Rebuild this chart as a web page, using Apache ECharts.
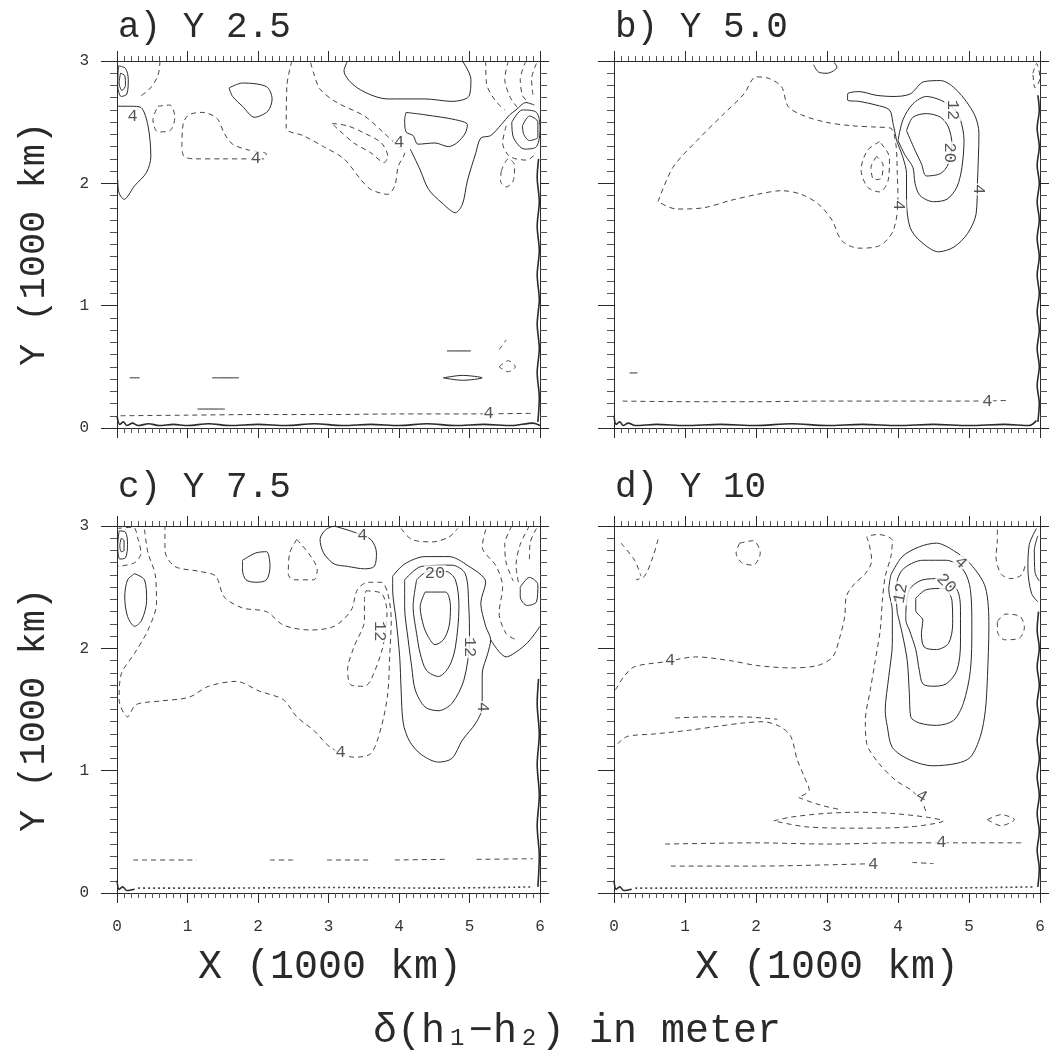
<!DOCTYPE html>
<html>
<head>
<meta charset="utf-8">
<script src="https://cdn.jsdelivr.net/npm/echarts@6/dist/echarts.min.js"></script>
<style>
html, body { margin: 0; padding: 0; background: #fff; }
#chart { width: 1049px; height: 1055px; }
</style>
</head>
<body>
<div id="chart"></div>
<script>
// delta(h1-h2) contours, coordinates in 1000 km; v > 0 solid, v < 0 dashed
const panelTitles = ['a) Y 2.5', 'b) Y 5.0', 'c) Y 7.5', 'd) Y 10']
const xTicks = [0, 1, 2, 3, 4, 5, 6]
const yTicks = [0, 1, 2, 3]

const contoursA = [
  { v: 4, pts: [[0.01, 2.63], [0.2, 2.63], [0.34, 2.62], [0.44, 2.47], [0.48, 2.22], [0.42, 2.09], [0.25, 1.98], [0.1, 1.87], [0.03, 1.92], [0.01, 2.03]] },
  { v: 8, pts: [[0.02, 2.96], [0.12, 2.94], [0.16, 2.85], [0.14, 2.73], [0.06, 2.71], [0.01, 2.8], [0.02, 2.96]] },
  { v: 12, pts: [[0.05, 2.9], [0.11, 2.88], [0.12, 2.8], [0.07, 2.76], [0.03, 2.82], [0.05, 2.9]] },
  { v: -4, pts: [[0.61, 3.0], [0.58, 2.88], [0.46, 2.77], [0.3, 2.7]] },
  { v: -4, pts: [[0.58, 2.63], [0.75, 2.64], [0.82, 2.54], [0.75, 2.43], [0.58, 2.42], [0.51, 2.52], [0.58, 2.63]] },
  { v: -4, pts: [[0.92, 2.3], [0.94, 2.49], [1.02, 2.56], [1.21, 2.58], [1.42, 2.53], [1.52, 2.41], [1.64, 2.32], [1.88, 2.27], [2.12, 2.24], [2.08, 2.2], [1.88, 2.2], [1.5, 2.2], [1.1, 2.2], [0.95, 2.22], [0.92, 2.3]] },
  { v: 4, pts: [[1.59, 2.78], [1.78, 2.82], [2.12, 2.79], [2.2, 2.69], [2.14, 2.59], [1.95, 2.54], [1.78, 2.63], [1.64, 2.71], [1.59, 2.78]] },
  { v: -4, pts: [[2.48, 3.0], [2.41, 2.8], [2.4, 2.45], [2.64, 2.39], [2.93, 2.3], [3.22, 2.2], [3.46, 2.03], [3.6, 1.95], [3.84, 1.91], [3.94, 1.98], [3.99, 2.14], [4.08, 2.25], [3.99, 2.3], [3.79, 2.41], [3.51, 2.55], [3.12, 2.66], [2.88, 2.77], [2.79, 2.9], [2.74, 3.0]] },
  { v: -8, pts: [[3.05, 2.49], [3.27, 2.47], [3.51, 2.41], [3.75, 2.33], [3.84, 2.22], [3.79, 2.17], [3.6, 2.25], [3.36, 2.33], [3.12, 2.45], [3.05, 2.49]] },
  { v: 4, pts: [[3.27, 3.0], [3.22, 2.92], [3.41, 2.78], [3.84, 2.69], [4.37, 2.69], [4.75, 2.67], [4.99, 2.71], [5.02, 2.85], [4.9, 3.0]] },
  { v: 4, pts: [[4.1, 2.58], [4.37, 2.56], [4.8, 2.52], [4.97, 2.48], [4.94, 2.41], [4.82, 2.33], [4.7, 2.3], [4.51, 2.33], [4.27, 2.32], [4.2, 2.39], [4.1, 2.42], [4.08, 2.52], [4.1, 2.58]] },
  { v: 4, pts: [[4.16, 2.28], [4.3, 2.11], [4.42, 1.95], [4.61, 1.84], [4.8, 1.76], [4.9, 1.83], [4.97, 2.02], [5.09, 2.25], [5.16, 2.37], [5.3, 2.39], [5.45, 2.48], [5.57, 2.56], [5.66, 2.6], [5.8, 2.66], [5.92, 2.64]] },
  { v: -4, pts: [[5.23, 3.0], [5.24, 2.82], [5.36, 2.68], [5.5, 2.6]] },
  { v: -8, pts: [[5.55, 3.0], [5.5, 2.85], [5.58, 2.7], [5.68, 2.62]] },
  { v: -12, pts: [[5.8, 3.0], [5.72, 2.85], [5.75, 2.72], [5.82, 2.67]] },
  { v: -16, pts: [[5.95, 2.98], [5.88, 2.85], [5.9, 2.72]] },
  { v: -4, pts: [[5.52, 2.47], [5.47, 2.33], [5.57, 2.22], [5.81, 2.19], [5.95, 2.25]] },
  { v: -4, pts: [[5.45, 2.1], [5.55, 2.2], [5.64, 2.15], [5.62, 2.02], [5.52, 1.97], [5.44, 2.02], [5.45, 2.1]] },
  { v: 8, pts: [[5.6, 2.5], [5.75, 2.6], [5.95, 2.58], [6.0, 2.45], [5.95, 2.3], [5.78, 2.28], [5.62, 2.38], [5.6, 2.5]] },
  { v: 12, pts: [[5.75, 2.47], [5.85, 2.55], [5.97, 2.5], [5.97, 2.38], [5.85, 2.35], [5.77, 2.4], [5.75, 2.47]] },
  { v: 4, pts: [[4.68, 0.63], [5.02, 0.63]] },
  { v: 4, pts: [[1.35, 0.41], [1.73, 0.41]] },
  { v: 4, pts: [[0.18, 0.41], [0.32, 0.41]] },
  { v: 4, pts: [[4.63, 0.41], [4.9, 0.43], [5.18, 0.41], [4.9, 0.39], [4.63, 0.41]] },
  { v: 4, pts: [[1.14, 0.155], [1.53, 0.155]] },
  { v: -4, pts: [[0.05, 0.1], [1.0, 0.105], [2.0, 0.11], [3.0, 0.11], [4.0, 0.115], [5.0, 0.115], [5.9, 0.12]] },
  { v: -4, pts: [[5.42, 0.5], [5.55, 0.55], [5.65, 0.5], [5.55, 0.46], [5.42, 0.5]] },
  { v: -4, pts: [[5.42, 0.64], [5.52, 0.72]] },
  { v: 1, pts: [[0.0, 0.1], [0.04, 0.03], [0.09, 0.05], [0.14, 0.02], [0.22, 0.04], [0.3, 0.02], [0.45, 0.035], [0.6, 0.02], [0.8, 0.03], [1.0, 0.02], [1.3, 0.035], [1.6, 0.02], [2.0, 0.03], [2.4, 0.02], [2.8, 0.035], [3.2, 0.02], [3.6, 0.03], [4.0, 0.02], [4.4, 0.035], [4.8, 0.02], [5.2, 0.03], [5.6, 0.02], [5.9, 0.04], [6.0, 0.02]] },
  { v: 1, pts: [[5.97, 0.05], [5.99, 0.25], [5.96, 0.45], [5.99, 0.65], [5.96, 0.85], [5.99, 1.05], [5.96, 1.25], [5.99, 1.45], [5.96, 1.65], [5.99, 1.85], [5.96, 2.05], [5.98, 2.2]] }
]
const labelsA = [[0.22, 2.55, '4', 0], [1.97, 2.2, '4', 0], [4.0, 2.33, '4', 0], [5.27, 0.115, '4', 0]]

const contoursB = [
  { v: 4, pts: [[3.98, 2.35], [3.93, 2.49], [3.88, 2.6], [3.69, 2.64], [3.45, 2.67], [3.29, 2.68], [3.29, 2.73], [3.45, 2.75], [3.69, 2.72], [3.93, 2.71], [4.17, 2.73], [4.36, 2.83], [4.6, 2.84], [4.83, 2.76], [5.07, 2.57], [5.14, 2.41], [5.12, 2.02], [5.1, 1.75], [4.98, 1.59], [4.79, 1.48], [4.57, 1.44], [4.31, 1.53], [4.17, 1.64], [4.12, 1.86], [4.12, 2.08], [4.07, 2.21], [3.98, 2.35]] },
  { v: 12, pts: [[4.0, 2.35], [4.07, 2.52], [4.21, 2.65], [4.4, 2.71], [4.6, 2.68], [4.79, 2.61], [4.88, 2.52], [4.93, 2.35], [4.9, 2.13], [4.83, 1.97], [4.69, 1.87], [4.5, 1.85], [4.31, 1.9], [4.24, 2.0], [4.21, 2.13], [4.1, 2.23], [4.0, 2.35]] },
  { v: 20, pts: [[4.12, 2.43], [4.21, 2.54], [4.4, 2.57], [4.6, 2.54], [4.71, 2.46], [4.76, 2.32], [4.71, 2.16], [4.6, 2.08], [4.4, 2.06], [4.33, 2.16], [4.24, 2.27], [4.12, 2.43]] },
  { v: -4, pts: [[0.62, 1.85], [0.83, 2.13], [1.17, 2.35], [1.55, 2.57], [1.83, 2.73], [2.0, 2.87], [2.17, 2.86], [2.36, 2.79], [2.45, 2.63], [2.64, 2.56], [2.98, 2.5], [3.36, 2.47], [3.69, 2.46], [3.9, 2.45], [3.97, 2.32], [3.99, 2.08], [4.0, 1.86], [3.93, 1.61], [3.74, 1.49], [3.45, 1.47], [3.21, 1.53], [3.07, 1.7], [2.88, 1.83], [2.64, 1.91], [2.36, 1.94], [2.02, 1.91], [1.64, 1.86], [1.26, 1.8], [0.88, 1.79], [0.62, 1.85]] },
  { v: -8, pts: [[3.74, 2.34], [3.57, 2.27], [3.48, 2.11], [3.57, 1.97], [3.74, 1.93], [3.86, 2.02], [3.88, 2.21], [3.74, 2.34]] },
  { v: -12, pts: [[3.7, 2.22], [3.62, 2.13], [3.66, 2.03], [3.76, 2.04], [3.79, 2.15], [3.7, 2.22]] },
  { v: 4, pts: [[2.81, 2.97], [2.88, 2.91], [3.0, 2.9], [3.14, 2.95], [3.1, 2.99]] },
  { v: -4, pts: [[0.12, 0.22], [1.0, 0.215], [2.0, 0.215], [3.0, 0.22], [4.0, 0.22], [5.0, 0.22], [5.55, 0.225]] },
  { v: 4, pts: [[0.22, 0.45], [0.33, 0.45]] },
  { v: -4, pts: [[5.9, 2.9], [5.95, 2.98], [6.0, 2.86], [5.93, 2.78], [5.9, 2.9]] },
  { v: 1, pts: [[0.0, 0.1], [0.03, 0.03], [0.08, 0.05], [0.13, 0.02], [0.2, 0.04], [0.3, 0.02], [0.6, 0.03], [1.0, 0.02], [1.5, 0.03], [2.0, 0.02], [2.5, 0.035], [3.0, 0.02], [3.5, 0.03], [4.0, 0.02], [4.5, 0.03], [5.0, 0.02], [5.5, 0.03], [5.85, 0.02], [5.95, 0.06]] },
  { v: 1, pts: [[5.97, 0.05], [5.99, 0.2], [5.96, 0.35], [5.99, 0.5], [5.96, 0.65], [5.99, 0.8], [5.96, 0.95], [5.99, 1.1], [5.96, 1.25], [5.99, 1.4], [5.96, 1.55], [5.99, 1.7], [5.96, 1.85], [5.99, 2.0], [5.96, 2.15], [5.99, 2.3], [5.96, 2.45], [5.99, 2.6], [5.97, 2.72]] }
]
const labelsB = [[4.77, 2.6, '12', -90], [4.72, 2.25, '20', -90], [5.13, 1.95, '4', -90], [4.0, 1.82, '4', -90], [5.26, 0.22, '4', 0]]

const contoursC = [
  { v: 8, pts: [[0.03, 2.96], [0.12, 2.95], [0.15, 2.85], [0.12, 2.74], [0.04, 2.73], [0.01, 2.84], [0.03, 2.96]] },
  { v: 12, pts: [[0.06, 2.9], [0.1, 2.88], [0.1, 2.8], [0.06, 2.79], [0.04, 2.84], [0.06, 2.9]] },
  { v: -4, pts: [[0.0, 2.98], [0.23, 2.99], [0.3, 2.89], [0.34, 2.78], [0.25, 2.7], [0.01, 2.67]] },
  { v: 4, pts: [[0.25, 2.61], [0.39, 2.56], [0.42, 2.39], [0.35, 2.23], [0.25, 2.18], [0.15, 2.26], [0.11, 2.42], [0.15, 2.56], [0.25, 2.61]] },
  { v: -4, pts: [[0.39, 2.97], [0.44, 2.78], [0.54, 2.61], [0.56, 2.37], [0.44, 2.15], [0.25, 1.96], [0.06, 1.79], [0.03, 1.58], [0.15, 1.44], [0.27, 1.54], [0.63, 1.57], [1.02, 1.6], [1.3, 1.69], [1.69, 1.73], [2.02, 1.65], [2.36, 1.58], [2.55, 1.44], [2.79, 1.33], [3.03, 1.19], [3.36, 1.11], [3.6, 1.14], [3.75, 1.36], [3.84, 1.63], [3.87, 1.96], [3.89, 2.23], [3.84, 2.45], [3.75, 2.54], [3.56, 2.54], [3.41, 2.48], [3.32, 2.31], [3.08, 2.18], [2.74, 2.15], [2.36, 2.19], [2.12, 2.3], [1.78, 2.33], [1.52, 2.42], [1.4, 2.59], [1.16, 2.63], [0.82, 2.67], [0.68, 2.8], [0.68, 3.0]] },
  { v: -12, pts: [[3.53, 2.47], [3.75, 2.45], [3.83, 2.29], [3.77, 2.01], [3.6, 1.74], [3.51, 1.69], [3.32, 1.7], [3.27, 1.82], [3.36, 2.01], [3.51, 2.23], [3.51, 2.4], [3.53, 2.47]] },
  { v: 28, pts: [[4.37, 2.46], [4.66, 2.46], [4.73, 2.34], [4.71, 2.18], [4.63, 2.07], [4.51, 2.03], [4.42, 2.09], [4.35, 2.18], [4.3, 2.34], [4.37, 2.46]] },
  { v: 20, pts: [[4.25, 2.56], [4.42, 2.63], [4.66, 2.63], [4.8, 2.56], [4.85, 2.34], [4.8, 2.01], [4.71, 1.85], [4.56, 1.77], [4.39, 1.82], [4.3, 1.96], [4.25, 2.12], [4.2, 2.34], [4.25, 2.56]] },
  { v: 12, pts: [[4.08, 2.56], [4.32, 2.67], [4.75, 2.68], [4.94, 2.61], [4.99, 2.34], [5.0, 2.07], [4.92, 1.74], [4.75, 1.55], [4.56, 1.49], [4.37, 1.52], [4.23, 1.66], [4.18, 1.85], [4.13, 2.07], [4.08, 2.34], [4.08, 2.56]] },
  { v: 4, pts: [[3.91, 2.59], [4.08, 2.69], [4.37, 2.75], [4.71, 2.75], [4.94, 2.69], [5.23, 2.54], [5.16, 2.37], [5.23, 2.18], [5.3, 2.07], [5.26, 1.96], [5.18, 1.79], [5.18, 1.52], [5.09, 1.39], [4.9, 1.25], [4.75, 1.1], [4.56, 1.07], [4.32, 1.13], [4.15, 1.24], [4.06, 1.39], [4.03, 1.66], [4.01, 1.93], [3.96, 2.23], [3.91, 2.48], [3.91, 2.59]] },
  { v: 4, pts: [[5.3, 2.07], [5.52, 1.93], [5.71, 1.99], [5.86, 2.07], [6.0, 2.18]] },
  { v: 4, pts: [[1.78, 2.72], [1.97, 2.78], [2.12, 2.79], [2.17, 2.67], [2.12, 2.56], [1.97, 2.54], [1.83, 2.56], [1.78, 2.64], [1.78, 2.72]] },
  { v: -4, pts: [[2.55, 2.89], [2.84, 2.64], [2.79, 2.56], [2.5, 2.56], [2.43, 2.61], [2.45, 2.78], [2.55, 2.89]] },
  { v: 4, pts: [[3.08, 3.0], [3.36, 2.95], [3.6, 2.89], [3.68, 2.78], [3.65, 2.67], [3.51, 2.65], [3.27, 2.67], [3.08, 2.69], [2.93, 2.78], [2.88, 2.89], [2.96, 2.97], [3.08, 3.0]] },
  { v: -4, pts: [[4.03, 2.98], [4.18, 2.89], [4.47, 2.87], [4.71, 2.91], [4.83, 2.98]] },
  { v: -4, pts: [[5.23, 2.97], [5.18, 2.83], [5.38, 2.67], [5.47, 2.5], [5.42, 2.29], [5.52, 2.12], [5.66, 2.07]] },
  { v: -8, pts: [[5.6, 3.0], [5.5, 2.85], [5.52, 2.7], [5.62, 2.55]] },
  { v: -12, pts: [[5.85, 3.0], [5.72, 2.85], [5.66, 2.68], [5.7, 2.52]] },
  { v: -16, pts: [[5.95, 2.98], [5.86, 2.86], [5.85, 2.72]] },
  { v: 4, pts: [[5.72, 2.5], [5.85, 2.58], [5.97, 2.52], [5.95, 2.38], [5.82, 2.35], [5.72, 2.42], [5.72, 2.5]] },
  { v: -4, pts: [[0.23, 0.27], [1.13, 0.27]] },
  { v: -4, pts: [[2.17, 0.27], [2.5, 0.27]] },
  { v: -4, pts: [[2.98, 0.27], [3.59, 0.27]] },
  { v: -4, pts: [[3.94, 0.27], [4.65, 0.275]] },
  { v: -4, pts: [[5.1, 0.275], [5.9, 0.28]] },
  { v: 1, pts: [[0.0, 0.1], [0.03, 0.03], [0.08, 0.05], [0.14, 0.02], [0.25, 0.03]] },
  { v: -1, pts: [[0.3, 0.04], [1.5, 0.04], [3.0, 0.045], [4.5, 0.04], [5.9, 0.05]] },
  { v: 1, pts: [[5.97, 0.05], [5.99, 0.3], [5.96, 0.55], [5.99, 0.8], [5.96, 1.05], [5.99, 1.3], [5.96, 1.55], [5.98, 1.75]] }
]
const labelsC = [[3.17, 1.15, '4', 0], [3.73, 2.14, '12', -90], [4.51, 2.61, '20', 0], [5.0, 2.01, '12', -90], [5.18, 1.52, '4', -90], [3.48, 2.92, '4', 0]]

const contoursD = [
  { v: 28, pts: [[4.25, 2.41], [4.4, 2.48], [4.64, 2.49], [4.76, 2.39], [4.77, 2.2], [4.71, 2.04], [4.54, 1.99], [4.37, 2.01], [4.33, 2.12], [4.35, 2.23], [4.25, 2.31], [4.25, 2.41]] },
  { v: 20, pts: [[4.11, 2.29], [4.16, 2.48], [4.35, 2.56], [4.59, 2.57], [4.83, 2.48], [4.88, 2.31], [4.88, 2.04], [4.83, 1.82], [4.68, 1.71], [4.49, 1.69], [4.35, 1.71], [4.3, 1.82], [4.25, 1.99], [4.16, 2.15], [4.11, 2.23], [4.11, 2.29]] },
  { v: 12, pts: [[3.99, 2.29], [3.97, 2.48], [4.06, 2.64], [4.35, 2.72], [4.68, 2.72], [4.92, 2.64], [5.02, 2.48], [5.04, 2.18], [5.02, 1.82], [4.92, 1.55], [4.78, 1.41], [4.54, 1.37], [4.3, 1.39], [4.18, 1.44], [4.16, 1.63], [4.13, 1.9], [4.06, 2.12], [3.99, 2.29]] },
  { v: 4, pts: [[3.9, 2.6], [4.06, 2.75], [4.3, 2.83], [4.54, 2.86], [4.78, 2.8], [5.02, 2.69], [5.23, 2.5], [5.28, 2.18], [5.26, 1.77], [5.23, 1.49], [5.16, 1.28], [5.02, 1.11], [4.83, 1.06], [4.49, 1.04], [4.16, 1.09], [3.92, 1.19], [3.85, 1.36], [3.82, 1.49], [3.87, 1.77], [3.92, 2.04], [3.92, 2.31], [3.87, 2.48], [3.9, 2.6]] },
  { v: -4, pts: [[0.02, 1.66], [0.14, 1.77], [0.29, 1.85], [0.72, 1.89], [1.15, 1.93], [1.63, 1.9], [2.01, 1.86], [2.49, 1.84], [2.87, 1.86], [3.08, 1.93], [3.18, 2.09], [3.25, 2.26], [3.27, 2.42], [3.39, 2.53], [3.54, 2.61], [3.63, 2.72], [3.59, 2.86], [3.56, 2.91], [3.73, 2.93], [3.92, 2.88], [3.9, 2.75], [3.82, 2.59], [3.78, 2.39], [3.75, 2.15], [3.68, 1.9], [3.61, 1.66], [3.54, 1.41], [3.56, 1.22], [3.73, 1.06], [3.97, 0.92], [4.21, 0.83], [4.35, 0.73], [4.4, 0.65]] },
  { v: -4, pts: [[0.05, 1.22], [0.19, 1.28], [0.57, 1.3], [1.05, 1.33], [1.43, 1.36], [1.82, 1.39], [2.1, 1.4], [2.34, 1.36], [2.49, 1.28], [2.58, 1.09], [2.68, 0.95], [2.75, 0.84], [2.63, 0.79]] },
  { v: -8, pts: [[0.86, 1.43], [1.3, 1.44], [1.8, 1.44], [2.3, 1.42]] },
  { v: -4, pts: [[2.6, 0.78], [2.9, 0.72], [3.2, 0.68]] },
  { v: -4, pts: [[2.25, 0.59], [2.49, 0.62], [2.96, 0.65], [3.44, 0.66], [3.92, 0.65], [4.4, 0.62], [4.64, 0.59], [4.16, 0.54], [3.44, 0.53], [2.72, 0.54], [2.25, 0.59]] },
  { v: -4, pts: [[0.72, 0.4], [2.0, 0.41], [3.0, 0.4], [4.0, 0.41], [4.61, 0.41], [5.74, 0.41]] },
  { v: -4, pts: [[0.8, 0.22], [2.0, 0.22], [3.0, 0.23], [3.65, 0.24]] },
  { v: -4, pts: [[4.2, 0.25], [4.5, 0.24]] },
  { v: -4, pts: [[5.26, 0.6], [5.45, 0.64], [5.64, 0.6], [5.45, 0.55], [5.26, 0.6]] },
  { v: -4, pts: [[1.77, 2.86], [1.96, 2.88], [2.06, 2.78], [1.96, 2.68], [1.8, 2.7], [1.72, 2.78], [1.77, 2.86]] },
  { v: -4, pts: [[5.4, 2.22], [5.52, 2.28], [5.72, 2.26], [5.78, 2.17], [5.7, 2.08], [5.5, 2.07], [5.4, 2.14], [5.4, 2.22]] },
  { v: -4, pts: [[5.4, 2.97], [5.4, 2.89], [5.38, 2.75], [5.45, 2.61], [5.59, 2.57], [5.74, 2.6], [5.8, 2.7]] },
  { v: 4, pts: [[5.95, 2.98], [5.85, 2.85], [5.83, 2.65], [5.88, 2.45], [5.97, 2.38]] },
  { v: 12, pts: [[5.97, 2.92], [5.92, 2.8], [5.93, 2.62], [5.99, 2.55]] },
  { v: -4, pts: [[0.1, 2.86], [0.29, 2.72], [0.38, 2.59]] },
  { v: -4, pts: [[0.62, 2.89], [0.55, 2.75], [0.43, 2.59], [0.31, 2.56]] },
  { v: 1, pts: [[0.0, 0.1], [0.03, 0.03], [0.08, 0.05], [0.14, 0.02], [0.25, 0.03]] },
  { v: -1, pts: [[0.3, 0.04], [1.5, 0.04], [3.0, 0.045], [4.5, 0.04], [5.9, 0.05]] },
  { v: 1, pts: [[5.97, 0.05], [5.99, 0.2], [5.96, 0.35], [5.99, 0.5], [5.96, 0.65], [5.99, 0.8], [5.96, 0.95], [5.99, 1.1], [5.96, 1.25], [5.99, 1.4], [5.96, 1.55], [5.99, 1.7], [5.96, 1.85], [5.99, 2.0], [5.96, 2.15], [5.98, 2.3]] }
]
const labelsD = [[0.79, 1.9, '4', 0], [4.33, 0.79, '4', -30], [4.68, 2.53, '20', -45], [4.04, 2.45, '12', 80], [4.88, 2.7, '4', -45], [4.61, 0.41, '4', 0], [3.65, 0.235, '4', 0]]

const mono = '"Liberation Mono", "DejaVu Sans Mono", monospace'
const ink = '#2a2a2a'
const gridPos = [
  { left: 117, top: 61, width: 423, height: 367 },
  { left: 614, top: 61, width: 426, height: 367 },
  { left: 117, top: 526, width: 423, height: 367 },
  { left: 614, top: 526, width: 426, height: 367 }
]

function xAxisFor(i, pos) {
  return {
    gridIndex: i, type: 'value', position: pos,
    min: xTicks[0], max: xTicks[xTicks.length - 1], interval: 1,
    axisLine: { show: true, onZero: false, lineStyle: { color: ink, width: 1 } },
    axisTick: { show: true, length: 10, lineStyle: { color: ink } },
    minorTick: { show: true, splitNumber: 10, length: 5, lineStyle: { color: '#555' } },
    splitLine: { show: false },
    axisLabel: {
      show: pos === 'bottom' && i >= 2, margin: 26, fontSize: 16, fontFamily: mono, color: '#333',
      formatter: v => (xTicks.includes(v) ? String(v) : '')
    }
  }
}

function yAxisFor(i, pos) {
  return {
    gridIndex: i, type: 'value', position: pos,
    min: yTicks[0], max: yTicks[yTicks.length - 1], interval: 1,
    axisLine: { show: true, onZero: false, lineStyle: { color: ink, width: 1 } },
    axisTick: { show: true, length: pos === 'left' ? 16 : 9, lineStyle: { color: ink } },
    minorTick: { show: true, splitNumber: 10, length: 7, lineStyle: { color: '#555' } },
    splitLine: { show: false },
    axisLabel: {
      show: pos === 'left' && i % 2 === 0, margin: 28, fontSize: 16, fontFamily: mono, color: '#333',
      formatter: v => (yTicks.includes(v) ? String(v) : '')
    }
  }
}

function panelSeries(i, contours, labels) {
  const out = contours.map(c => ({
    type: 'line', xAxisIndex: i * 2, yAxisIndex: i * 2,
    data: c.pts, showSymbol: false, symbol: 'none', smooth: 0.3, silent: true,
    lineStyle: {
      color: c.v < 0 ? '#444' : ink,
      width: Math.abs(c.v) === 1 ? 1.6 : 1,
      type: c.v < 0 ? (c.v === -1 ? [2, 3] : [5, 4]) : 'solid'
    }
  }))
  out.push({
    type: 'scatter', xAxisIndex: i * 2, yAxisIndex: i * 2, z: 5, silent: true,
    symbolSize: 1, itemStyle: { color: 'rgba(0,0,0,0)' },
    data: labels.map(l => ({ name: l[2], value: [l[0], l[1]], label: { rotate: l[3] } })),
    label: {
      show: true, position: 'inside', formatter: '{b}',
      fontFamily: mono, fontSize: 17, color: ink, backgroundColor: '#fff', padding: [0, 1]
    }
  })
  return out
}

const chart = echarts.init(document.getElementById('chart'))

const xAxes = []
const yAxes = []
for (let i = 0; i < 4; i++) {
  xAxes.push(xAxisFor(i, 'bottom'), xAxisFor(i, 'top'))
  yAxes.push(yAxisFor(i, 'left'), yAxisFor(i, 'right'))
}

const titleXY = [[118, 27], [615, 27], [118, 487], [615, 487]]
const texts = panelTitles.map((t, i) => ({
  type: 'text', x: titleXY[i][0], y: titleXY[i][1],
  style: { text: t, font: '36px ' + mono, fill: ink, verticalAlign: 'middle', textVerticalAlign: 'middle' }
}))
;[244, 710].forEach(cy => {
  texts.push({
    type: 'text', x: 34, y: cy, rotation: Math.PI / 2,
    style: { text: 'Y (1000 km)', font: '37px ' + mono, fill: ink, align: 'center', textAlign: 'center', verticalAlign: 'middle', textVerticalAlign: 'middle' }
  })
})
;[330, 827].forEach(cx => {
  texts.push({
    type: 'text', x: cx, y: 967,
    style: { text: 'X (1000 km)', font: '40px ' + mono, fill: ink, align: 'center', textAlign: 'center', verticalAlign: 'middle', textVerticalAlign: 'middle' }
  })
})
texts.push({
  type: 'text', x: 577, y: 1031,
  style: { text: 'δ(h₁−h₂) in meter', font: '40px ' + mono, fill: ink, align: 'center', textAlign: 'center', verticalAlign: 'middle', textVerticalAlign: 'middle' }
})

chart.setOption({
  animation: false,
  backgroundColor: '#fff',
  grid: gridPos,
  xAxis: xAxes,
  yAxis: yAxes,
  graphic: texts,
  series: [
    ...panelSeries(0, contoursA, labelsA),
    ...panelSeries(1, contoursB, labelsB),
    ...panelSeries(2, contoursC, labelsC),
    ...panelSeries(3, contoursD, labelsD)
  ]
})
</script>
</body>
</html>
